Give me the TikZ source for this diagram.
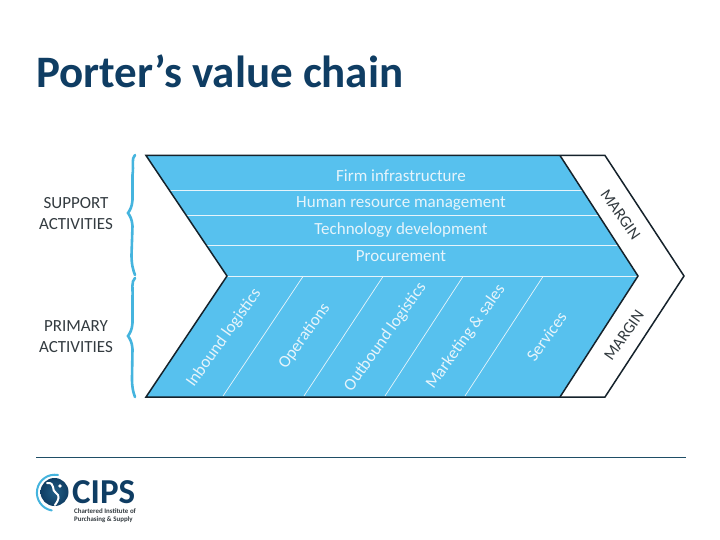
\documentclass[tikz,border=0pt]{standalone}
\usepackage{fontspec}
\setmainfont{Carlito}
\definecolor{chain}{HTML}{57C1EE}
\definecolor{navy}{HTML}{0F3D63}
\definecolor{ruleC}{HTML}{1F4E66}
\definecolor{edgeC}{HTML}{15222B}
\definecolor{ink}{HTML}{333B40}
\definecolor{pale}{HTML}{E6F4FB}
\definecolor{ringC}{HTML}{45B4DE}
\tikzset{
  bar/.style={draw=pale,line width=0.9pt},
  slant/.style={draw=pale,line width=0.7pt},
  outline/.style={draw=edgeC,line width=1.5pt,line join=miter},
  inlabel/.style={text=pale,font=\fontsize{17}{19}\selectfont,inner sep=0pt},
  rotlabel/.style={text=pale,font=\fontsize{17}{19}\selectfont,inner sep=0pt,rotate=54.5},
  sidelabel/.style={text=ink,font=\fontsize{17}{21}\selectfont,align=center,inner sep=0pt},
  marginlabel/.style={text=ink,font=\fontsize{16.3}{19}\selectfont,inner sep=0pt},
  bracecurve/.style={draw=ringC,line width=2.6pt,line cap=round}
}
\begin{document}
\begin{tikzpicture}[x=1pt,y=-1pt]
\useasboundingbox (0,0) rectangle (720,540);
\fill[white] (0,0) rectangle (720,540);
\node[anchor=west,text=navy,font=\fontsize{45}{48}\selectfont\bfseries,inner sep=0pt] (title) at (36,71) {Porter’s value chain};
% chevrons
\coordinate (tl) at (146,155.5);
\coordinate (notch) at (227,276);
\coordinate (bl) at (146,397);
\coordinate (tr) at (560,155.5);
\coordinate (tip) at (638,276);
\coordinate (br) at (560,397);
\coordinate (otr) at (605,155.5);
\coordinate (otip) at (684,276);
\coordinate (obr) at (605,397);
\fill[chain] (tl) -- (tr) -- (tip) -- (br) -- (bl) -- (notch) -- cycle;
\draw[bar] (169.5,190.5) -- (583,190.5);
\draw[bar] (186,215) -- (599,215);
\draw[bar] (206,245) -- (618,245);
\draw[bar] (notch) -- (tip);
\draw[slant] (223,396) -- (303,276.5);
\draw[slant] (304,396) -- (383,276.5);
\draw[slant] (385,396) -- (463,276.5);
\draw[slant] (465,396) -- (543,276.5);
\draw[outline] (notch) -- (tl) -- (otr) -- (otip) -- (obr) -- (bl) -- cycle;
\draw[outline] (tr) -- (tip) -- (br);
% labels
\node[inlabel] (firm) at (401,176) {Firm infrastructure};
\node[inlabel] (hr) at (401,204) {Human resource management};
\node[inlabel] (tech) at (401,230.5) {Technology development};
\node[inlabel] (proc) at (401,256) {Procurement};
\node[rotlabel] (inb) at (224,338) {Inbound logistics};
\node[rotlabel] (ops) at (304.5,336) {Operations};
\node[rotlabel] (outb) at (385.5,337) {Outbound logistics};
\node[rotlabel] (mkt) at (466,337) {Marketing \& sales};
\node[rotlabel] (svc) at (546.5,336.5) {Services};
\node[marginlabel,rotate=-55] (m1) at (620.5,214.5) {MARGIN};
\node[marginlabel,rotate=55] (m2) at (624,335.5) {MARGIN};
\node[sidelabel] (sup) at (76,213.5) {SUPPORT\\ACTIVITIES};
\node[sidelabel] (pri) at (76,336.5) {PRIMARY\\ACTIVITIES};
% braces
\draw[bracecurve] (135,155) .. controls (131,159) and (134,165) .. (132.5,175) -- (132.5,200) .. controls (132,207) and (130,210) .. (128,213) .. controls (130,216) and (132,219) .. (132.5,226) -- (131.5,255) .. controls (131.5,264) and (133,270) .. (135,275);
\draw[bracecurve] (135,278) .. controls (131,282) and (133,288) .. (132.5,297) -- (132.5,323) .. controls (132,330) and (130,333) .. (128,336) .. controls (130,339) and (132,342) .. (132.5,349) -- (132,378) .. controls (132,387) and (133,392) .. (135,397);
% footer rule
\coordinate (ruleL) at (36,457.5);
\coordinate (ruleR) at (686,457.5);
\draw[ruleC,line width=0.9pt] (ruleL) -- (ruleR);
% logo
\draw[ringC,line width=2pt,line cap=round] (58,475) arc (-80:-260:18);
\shade[inner color=navy!75!chain,outer color=navy] (54.5,492) circle (14);
\draw[white,line width=2pt,line cap=round] (47,483) .. controls (56,482) and (51,491) .. (56,493) .. controls (60,495) and (59,500) .. (55,505);
\fill[white] (60,486) circle (1.9);
\node[anchor=west,text=navy,font=\fontsize{35}{35}\selectfont\bfseries,inner sep=0pt] (cips) at (72,492) {CIPS};
\node[anchor=north west,text=ink,font=\fontsize{6.9}{8.4}\selectfont\bfseries,align=left,inner sep=0pt] (inst) at (74,508.5) {Chartered Institute of\\Purchasing \& Supply};
\end{tikzpicture}
\end{document}
